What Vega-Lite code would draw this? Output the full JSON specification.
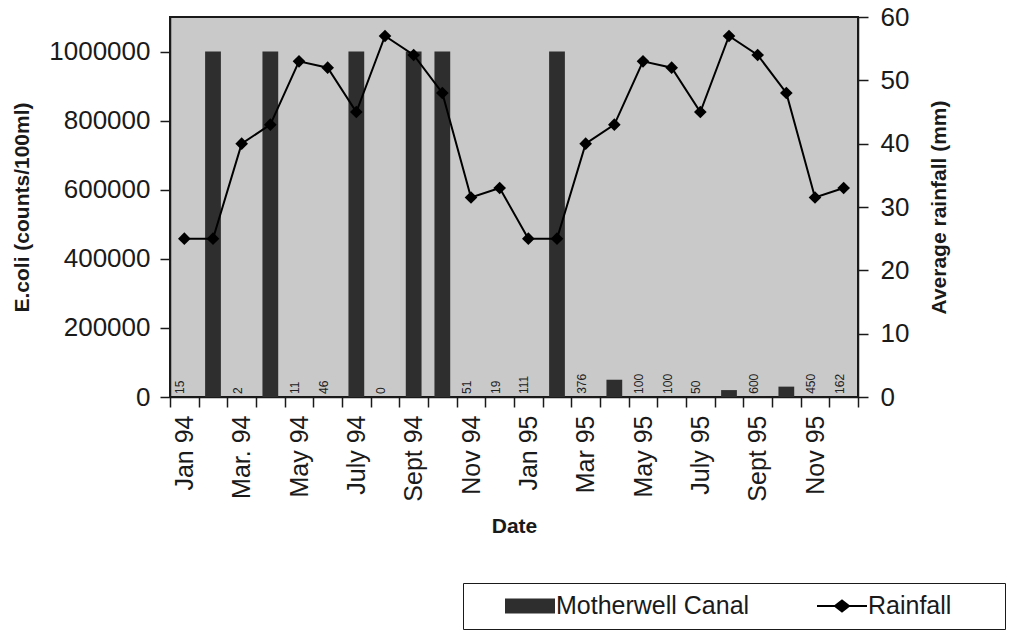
{
  "$schema": "https://vega.github.io/schema/vega-lite/v6.json",
  "width": 688,
  "height": 380,
  "autosize": {"type": "none"},
  "padding": {"left": 170, "top": 17, "right": 154, "bottom": 236},
  "background": "white",
  "config": {
    "font": "Liberation Sans",
    "view": {"fill": "#c9c9c9", "stroke": "#1a1a1a", "strokeWidth": 2},
    "axis": {
      "labelFontSize": 25,
      "labelColor": "#1a1a1a",
      "titleFontSize": 21,
      "titleFontWeight": "bold",
      "titleColor": "#1a1a1a",
      "domainColor": "#1a1a1a",
      "tickColor": "#1a1a1a",
      "tickSize": 10,
      "tickWidth": 1.5,
      "domainWidth": 1.5,
      "grid": false
    }
  },
  "data": {
    "values": [
      {"month": "Jan 94", "ecoli": 15, "rain": 25},
      {"month": "Feb 94", "ecoli": 1000000, "rain": 25},
      {"month": "Mar. 94", "ecoli": 2, "rain": 40},
      {"month": "Apr 94", "ecoli": 1000000, "rain": 43},
      {"month": "May 94", "ecoli": 11, "rain": 53},
      {"month": "June 94", "ecoli": 46, "rain": 52},
      {"month": "July 94", "ecoli": 1000000, "rain": 45},
      {"month": "Aug 94", "ecoli": 0, "rain": 57},
      {"month": "Sept 94", "ecoli": 1000000, "rain": 54},
      {"month": "Oct 94", "ecoli": 1000000, "rain": 48},
      {"month": "Nov 94", "ecoli": 51, "rain": 31.5},
      {"month": "Dec 94", "ecoli": 19, "rain": 33},
      {"month": "Jan 95", "ecoli": 111, "rain": 25},
      {"month": "Feb 95", "ecoli": 1000000, "rain": 25},
      {"month": "Mar 95", "ecoli": 376, "rain": 40},
      {"month": "Apr 95", "ecoli": 50000, "rain": 43},
      {"month": "May 95", "ecoli": 100, "rain": 53},
      {"month": "June 95", "ecoli": 100, "rain": 52},
      {"month": "July 95", "ecoli": 50, "rain": 45},
      {"month": "Aug 95", "ecoli": 20000, "rain": 57},
      {"month": "Sept 95", "ecoli": 600, "rain": 54},
      {"month": "Oct 95", "ecoli": 30000, "rain": 48},
      {"month": "Nov 95", "ecoli": 450, "rain": 31.5},
      {"month": "Dec 95", "ecoli": 162, "rain": 33}
    ]
  },
  "layer": [
    {
      "layer": [
        {
          "mark": {"type": "bar", "width": {"band": 0.55}},
          "encoding": {
            "x": {
              "field": "month",
              "type": "nominal",
              "sort": null,
              "scale": {"paddingInner": 0, "paddingOuter": 0},
              "axis": {
                "title": "Date",
                "labelAngle": 270,
                "labelAlign": "right",
                "labelBaseline": "middle",
                "labelPadding": 8,
                "tickBand": "extent",
                "titlePadding": 14,
                "labelExpr": "round(datum.index * 23) % 2 == 0 ? datum.label : ''"
              }
            },
            "y": {
              "field": "ecoli",
              "type": "quantitative",
              "scale": {"domain": [0, 1100000], "nice": false},
              "axis": {
                "title": "E.coli (counts/100ml)",
                "values": [0, 200000, 400000, 600000, 800000, 1000000],
                "format": "d",
                "labelFontSize": 26,
                "labelPadding": 10,
                "titlePadding": 16
              }
            },
            "color": {
              "datum": "Motherwell Canal",
              "type": "nominal",
              "scale": {"domain": ["Motherwell Canal", "Rainfall"], "range": ["#2e2e2e", "#000000"]},
              "legend": {
                "orient": "none",
                "legendX": 293,
                "legendY": 566,
                "direction": "horizontal",
                "title": " ",
                "titleOrient": "right",
                "titlePadding": 44,
                "padding": 10,
                "strokeColor": "#1a1a1a",
                "fillColor": "#ffffff",
                "symbolSize": 2500,
                "clipHeight": 26,
                "symbolOffset": 44.5,
                "labelFontSize": 25,
                "labelLimit": 400,
                "labelColor": "#1a1a1a",
                "labelOffset": 13.5,
                "columnPadding": 35,
                "encode": {
                  "symbols": {
                    "update": {
                      "shape": {"signal": "datum.value == 'Rainfall' ? 'M-1,0H1M0,-0.22L0.28,0L0,0.22L-0.28,0Z' : 'M-1,-0.3H1V0.3H-1Z'"},
                      "fill": {"signal": "datum.value == 'Rainfall' ? '#000000' : '#2e2e2e'"},
                      "stroke": {"value": "#111111"},
                      "strokeWidth": {"signal": "datum.value == 'Rainfall' ? 2 : 0"},
                      "opacity": {"value": 1}
                    }
                  }
                }
              }
            }
          }
        },
        {
          "transform": [{"filter": "datum.ecoli < 10000"}],
          "mark": {"type": "text", "angle": 270, "align": "left", "baseline": "middle", "dx": 3, "dy": -4, "fontSize": 12, "color": "#222222"},
          "encoding": {
            "x": {"field": "month", "type": "nominal", "sort": null},
            "y": {"field": "ecoli", "type": "quantitative"},
            "text": {"field": "ecoli", "type": "quantitative", "format": "d"}
          }
        }
      ]
    },
    {
      "mark": {"type": "line", "strokeWidth": 2, "point": {"shape": "diamond", "size": 160, "filled": true}},
      "encoding": {
        "x": {"field": "month", "type": "nominal", "sort": null},
        "y": {
          "field": "rain",
          "type": "quantitative",
          "scale": {"domain": [0, 60], "nice": false},
          "axis": {
            "orient": "right",
            "title": "Average rainfall (mm)",
            "values": [0, 10, 20, 30, 40, 50, 60],
            "labelFontSize": 26,
            "labelPadding": 12,
            "titlePadding": 20,
            "titleAngle": 270,
            "titleBaseline": "top"
          }
        },
        "color": {"datum": "Rainfall", "type": "nominal"}
      }
    }
  ],
  "resolve": {"scale": {"y": "independent"}}
}
